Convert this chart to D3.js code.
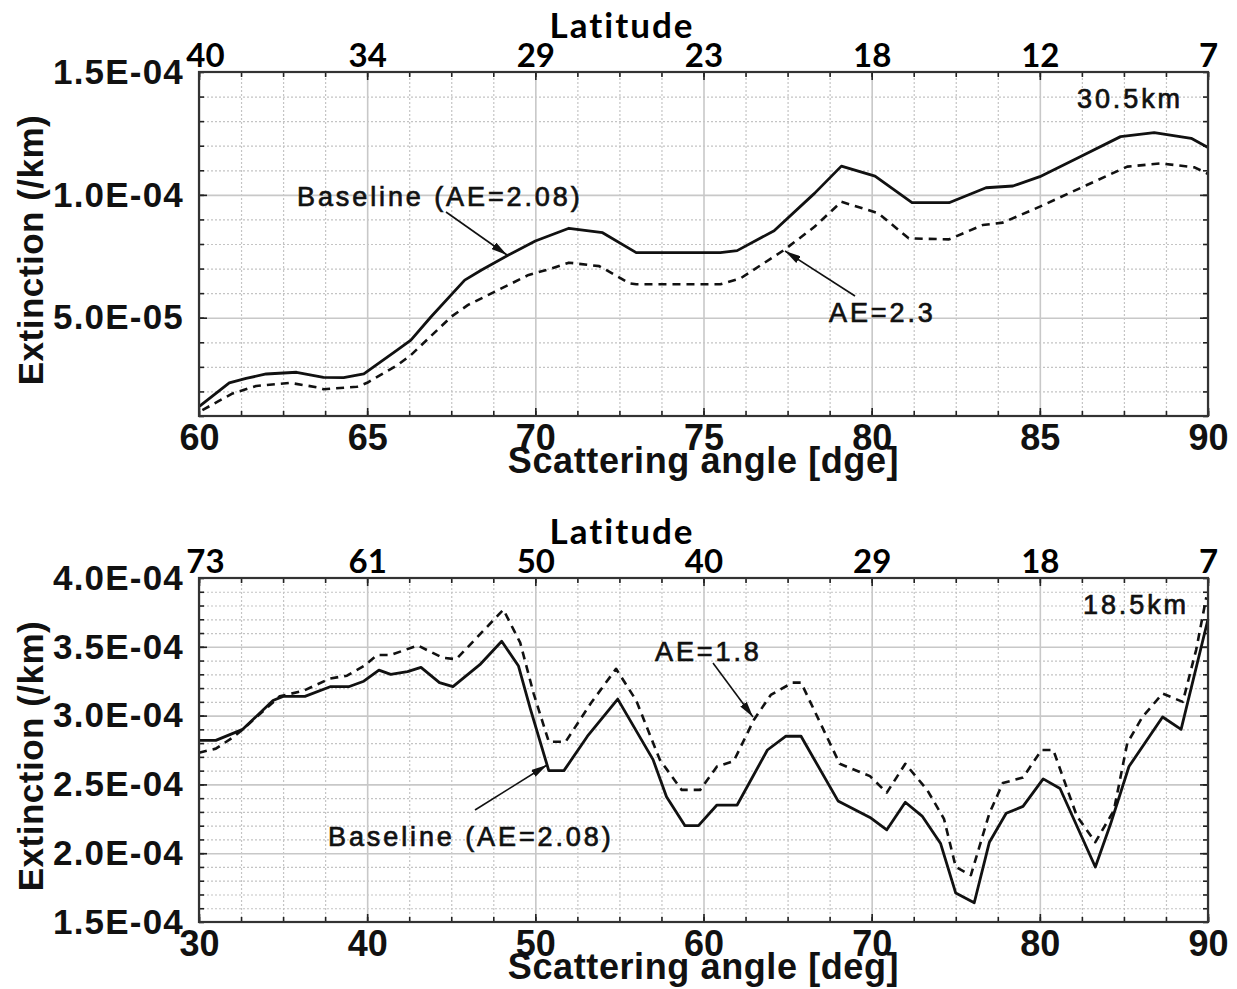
<!DOCTYPE html>
<html><head><meta charset="utf-8">
<script src="https://cdn.jsdelivr.net/npm/d3@7"></script>
<style>
body{margin:0;background:#fff;}
svg{display:block;background:#fff;}
.lbl text, text.lbl{font-family:"Liberation Sans",Arial,sans-serif;font-weight:bold;fill:#111;}
.lat text, text.lat{font-family:Lato,"Open Sans",sans-serif;font-weight:bold;fill:#000;}
text.ann{font-family:"Liberation Sans",Arial,sans-serif;fill:#111;stroke:#111;stroke-width:0.7;}
</style></head><body>
<svg id="c" width="1237" height="989"></svg>
<script>
// ---------------- DATA ----------------
// Top panel: 30.5 km
const topXTicks = [60, 65, 70, 75, 80, 85, 90];
const topLatLabels = ["40", "34", "29", "23", "18", "12", "7"];
const topYTicks = [1.5e-4, 1.0e-4, 5.0e-5];
const topYLabels = ["1.5E-04", "1.0E-04", "5.0E-05"];

const topBaseAngle = [60.0, 60.9, 61.4, 62.0, 62.9, 63.7, 64.3, 64.9, 65.9, 66.3, 66.9, 67.9, 68.4, 69.2, 70.0, 71.0, 72.0, 73.0, 75.5, 76.0, 77.1, 78.3, 79.1, 80.1, 81.2, 82.3, 83.4, 84.2, 85.0, 86.2, 87.4, 88.4, 89.5, 90.0];
const topBaseExt = [1.38e-5, 2.35e-5, 2.53e-5, 2.71e-5, 2.78e-5, 2.57e-5, 2.56e-5, 2.71e-5, 3.69e-5, 4.09e-5, 5.04e-5, 6.53e-5, 6.94e-5, 7.55e-5, 8.12e-5, 8.64e-5, 8.46e-5, 7.65e-5, 7.65e-5, 7.73e-5, 8.54e-5, 1.006e-4, 1.117e-4, 1.076e-4, 9.68e-5, 9.68e-5, 1.029e-4, 1.036e-4, 1.074e-4, 1.155e-4, 1.237e-4, 1.253e-4, 1.230e-4, 1.193e-4];

const topAE23Angle = [60.1, 61.0, 61.7, 62.7, 63.5, 63.7, 64.7, 65.0, 65.9, 66.3, 67.5, 68.0, 68.9, 69.8, 70.5, 71.0, 71.9, 72.8, 73.0, 75.5, 76.1, 77.4, 78.3, 79.1, 80.2, 81.1, 82.3, 83.3, 83.9, 85.0, 86.4, 87.6, 88.6, 89.6, 90.0];
const topAE23Ext = [1.24e-5, 1.92e-5, 2.22e-5, 2.35e-5, 2.17e-5, 2.09e-5, 2.19e-5, 2.35e-5, 3.07e-5, 3.48e-5, 5.04e-5, 5.52e-5, 6.13e-5, 6.74e-5, 7.01e-5, 7.24e-5, 7.10e-5, 6.40e-5, 6.36e-5, 6.36e-5, 6.60e-5, 7.76e-5, 8.70e-5, 9.72e-5, 9.25e-5, 8.23e-5, 8.19e-5, 8.77e-5, 8.87e-5, 9.52e-5, 1.040e-4, 1.115e-4, 1.128e-4, 1.112e-4, 1.085e-4];

// Bottom panel: 18.5 km
const botXTicks = [30, 40, 50, 60, 70, 80, 90];
const botLatLabels = ["73", "61", "50", "40", "29", "18", "7"];
const botYTicks = [4.0e-4, 3.5e-4, 3.0e-4, 2.5e-4, 2.0e-4, 1.5e-4];
const botYLabels = ["4.0E-04", "3.5E-04", "3.0E-04", "2.5E-04", "2.0E-04", "1.5E-04"];

const botBaseAngle = [30.0, 31.0, 32.6, 34.4, 35.0, 36.3, 37.8, 38.9, 39.8, 40.7, 41.4, 42.4, 43.2, 44.3, 45.1, 46.7, 48.0, 49.0, 49.7, 50.8, 51.7, 53.1, 54.9, 57.0, 57.8, 58.9, 59.7, 60.8, 62.0, 63.8, 64.9, 65.8, 68.0, 69.9, 70.9, 72.0, 73.0, 74.1, 75.0, 76.1, 77.0, 78.0, 79.0, 80.2, 81.2, 83.3, 84.2, 85.3, 87.3, 88.4, 90.0];
const botBaseExt = [2.82e-4, 2.82e-4, 2.90e-4, 3.11e-4, 3.14e-4, 3.14e-4, 3.21e-4, 3.21e-4, 3.25e-4, 3.33e-4, 3.30e-4, 3.32e-4, 3.35e-4, 3.24e-4, 3.21e-4, 3.37e-4, 3.54e-4, 3.36e-4, 3.05e-4, 2.60e-4, 2.60e-4, 2.85e-4, 3.12e-4, 2.68e-4, 2.41e-4, 2.20e-4, 2.20e-4, 2.35e-4, 2.35e-4, 2.75e-4, 2.85e-4, 2.85e-4, 2.38e-4, 2.26e-4, 2.17e-4, 2.37e-4, 2.27e-4, 2.07e-4, 1.71e-4, 1.64e-4, 2.08e-4, 2.29e-4, 2.34e-4, 2.54e-4, 2.47e-4, 1.90e-4, 2.21e-4, 2.63e-4, 2.99e-4, 2.90e-4, 3.70e-4];

const botAE18Angle = [30.0, 31.0, 32.0, 32.6, 34.8, 36.2, 37.8, 38.8, 39.8, 40.6, 41.4, 43.0, 44.5, 45.3, 46.7, 48.1, 49.1, 49.9, 50.8, 51.8, 53.3, 54.8, 56.0, 57.4, 58.7, 59.8, 60.8, 61.8, 63.0, 64.0, 65.3, 65.8, 68.1, 69.9, 70.9, 72.0, 73.3, 74.3, 75.0, 75.9, 77.0, 77.8, 79.0, 80.1, 80.8, 82.2, 83.3, 84.4, 85.2, 86.1, 87.3, 88.5, 89.3, 89.9];
const botAE18Ext = [2.73e-4, 2.76e-4, 2.84e-4, 2.90e-4, 3.14e-4, 3.18e-4, 3.27e-4, 3.29e-4, 3.36e-4, 3.44e-4, 3.44e-4, 3.51e-4, 3.42e-4, 3.41e-4, 3.59e-4, 3.77e-4, 3.53e-4, 3.16e-4, 2.81e-4, 2.81e-4, 3.09e-4, 3.34e-4, 3.11e-4, 2.68e-4, 2.46e-4, 2.46e-4, 2.63e-4, 2.67e-4, 2.97e-4, 3.15e-4, 3.24e-4, 3.24e-4, 2.65e-4, 2.56e-4, 2.44e-4, 2.65e-4, 2.46e-4, 2.25e-4, 1.90e-4, 1.84e-4, 2.29e-4, 2.51e-4, 2.55e-4, 2.75e-4, 2.75e-4, 2.27e-4, 2.08e-4, 2.31e-4, 2.80e-4, 2.99e-4, 3.16e-4, 3.10e-4, 3.48e-4, 3.86e-4];

// ---------------- DRAWING ----------------
const svg = d3.select('#c');
const defs = svg.append('defs');
defs.append('marker').attr('id', 'arr').attr('viewBox', '0 0 16 8')
  .attr('refX', 16).attr('refY', 4).attr('markerWidth', 16).attr('markerHeight', 8)
  .attr('markerUnits', 'userSpaceOnUse').attr('orient', 'auto')
  .append('path').attr('d', 'M0,0 L16,4 L0,8 Z').attr('fill', '#111');

function panel(cfg) {
  const x = d3.scaleLinear().domain(cfg.xDomain).range([cfg.x0, cfg.x1]);
  const y = d3.scaleLinear().domain(cfg.yDomain).range([cfg.y1, cfg.y0]);
  const W = cfg.x1 - cfg.x0, H = cfg.y1 - cfg.y0;
  const g = svg.append('g');
  const eps = 1e-9;
  const xMinor = d3.range(cfg.xDomain[0], cfg.xDomain[1] + eps, cfg.xMinorStep);
  const yMinor = d3.range(0, Math.round((cfg.yDomain[1] - cfg.yDomain[0]) / cfg.yMinorStep) + 1)
                   .map(i => cfg.yDomain[0] + i * cfg.yMinorStep);
  const isMajX = v => cfg.xTicks.some(t => Math.abs(t - v) < 1e-6);
  const isMajY = v => cfg.yMajor.some(t => Math.abs(t - v) < 1e-12);

  // minor grid (dotted)
  g.append('g').attr('transform', `translate(0,${cfg.y1})`)
    .call(d3.axisBottom(x).tickValues(xMinor.filter(v => !isMajX(v))).tickSize(-H).tickFormat(''))
    .call(s => s.select('.domain').remove())
    .selectAll('line').attr('stroke', '#c4c4c4').attr('stroke-width', 1.2).attr('stroke-dasharray', '2,2');
  g.append('g').attr('transform', `translate(${cfg.x0},0)`)
    .call(d3.axisLeft(y).tickValues(yMinor.filter(v => !isMajY(v))).tickSize(-W).tickFormat(''))
    .call(s => s.select('.domain').remove())
    .selectAll('line').attr('stroke', '#c4c4c4').attr('stroke-width', 1.2).attr('stroke-dasharray', '2,2');
  // major grid (solid)
  g.append('g').attr('transform', `translate(0,${cfg.y1})`)
    .call(d3.axisBottom(x).tickValues(cfg.xTicks).tickSize(-H).tickFormat(''))
    .call(s => s.select('.domain').remove())
    .selectAll('line').attr('stroke', '#c8c8c8').attr('stroke-width', 1.6);
  g.append('g').attr('transform', `translate(${cfg.x0},0)`)
    .call(d3.axisLeft(y).tickValues(cfg.yMajor).tickSize(-W).tickFormat(''))
    .call(s => s.select('.domain').remove())
    .selectAll('line').attr('stroke', '#c8c8c8').attr('stroke-width', 1.6);

  // inward tick marks on all four sides
  const tk = (axis, tr, vals, len) => {
    g.append('g').attr('transform', tr)
      .call(axis.tickValues(vals).tickSize(-len).tickFormat(''))
      .call(s => s.select('.domain').remove())
      .selectAll('line').attr('stroke', '#222').attr('stroke-width', 1.6);
  };
  tk(d3.axisBottom(x), `translate(0,${cfg.y1})`, xMinor, 5);
  tk(d3.axisBottom(x), `translate(0,${cfg.y1})`, cfg.xTicks, 8);
  tk(d3.axisTop(x), `translate(0,${cfg.y0})`, xMinor, 5);
  tk(d3.axisTop(x), `translate(0,${cfg.y0})`, cfg.xTicks, 8);
  tk(d3.axisLeft(y), `translate(${cfg.x0},0)`, yMinor, 5);
  tk(d3.axisLeft(y), `translate(${cfg.x0},0)`, cfg.yMajor, 8);
  tk(d3.axisRight(y), `translate(${cfg.x1},0)`, yMinor, 5);
  tk(d3.axisRight(y), `translate(${cfg.x1},0)`, cfg.yMajor, 8);

  // series
  const line = d3.line().x(d => x(d[0])).y(d => y(d[1]));
  g.append('path').datum(d3.zip(cfg.dashA, cfg.dashV)).attr('d', line)
    .attr('fill', 'none').attr('stroke', '#111').attr('stroke-width', 2.6)
    .attr('stroke-dasharray', '8,6').attr('stroke-linejoin', 'round');
  g.append('path').datum(d3.zip(cfg.solidA, cfg.solidV)).attr('d', line)
    .attr('fill', 'none').attr('stroke', '#111').attr('stroke-width', 2.8)
    .attr('stroke-linejoin', 'round');

  // frame
  g.append('rect').attr('x', cfg.x0).attr('y', cfg.y0).attr('width', W).attr('height', H)
    .attr('fill', 'none').attr('stroke', '#333').attr('stroke-width', 2.2);

  // bottom tick labels
  const bx = g.append('g').attr('class', 'lbl').attr('transform', `translate(0,${cfg.y1})`)
    .call(d3.axisBottom(x).tickValues(cfg.xTicks).tickSize(0).tickPadding(8).tickFormat(d3.format('d')));
  bx.select('.domain').remove();
  bx.selectAll('text').attr('font-size', 36).attr('fill', '#111');
  // top latitude labels
  const tx = g.append('g').attr('class', 'lat').attr('transform', `translate(0,${cfg.y0})`)
    .call(d3.axisTop(x).tickValues(cfg.xTicks).tickSize(0).tickPadding(5).tickFormat((d, i) => cfg.latLabels[i]));
  tx.select('.domain').remove();
  tx.selectAll('text').attr('font-size', 33).attr('fill', '#000')
    .attr('dx', (d, i) => i === 0 ? 6 : 0);
  // left y labels
  const ly = g.append('g').attr('class', 'lbl').attr('transform', `translate(${cfg.x0},0)`)
    .call(d3.axisLeft(y).tickValues(cfg.yTicks).tickSize(0).tickPadding(15).tickFormat((d, i) => cfg.yLabels[i]));
  ly.select('.domain').remove();
  ly.selectAll('text').attr('font-size', 35).attr('fill', '#111').attr('letter-spacing', 1.2);

  // titles
  const cx = (cfg.x0 + cfg.x1) / 2;
  g.append('text').attr('class', 'lbl').attr('x', cx).attr('y', cfg.y1 + 57)
    .attr('text-anchor', 'middle').attr('font-size', 36).attr('letter-spacing', 0.6).text(cfg.xTitle);
  g.append('text').attr('class', 'lat').attr('x', 622).attr('y', cfg.y0 - 34)
    .attr('text-anchor', 'middle').attr('font-size', 35).attr('letter-spacing', 2).text('Latitude');
  g.append('text').attr('class', 'lbl')
    .attr('transform', `translate(30,${(cfg.y0 + cfg.y1) / 2 + 6}) rotate(-90)`)
    .attr('text-anchor', 'middle').attr('dominant-baseline', 'central')
    .attr('font-size', 35).attr('letter-spacing', 0.5).text('Extinction (/km)');

  // annotations
  cfg.notes.forEach(n => {
    g.append('text').attr('class', 'ann').attr('x', n.x).attr('y', n.y)
      .attr('font-size', 27).attr('letter-spacing', 2.9).text(n.t);
  });
  cfg.arrows.forEach(a => {
    g.append('line').attr('x1', a[0]).attr('y1', a[1]).attr('x2', a[2]).attr('y2', a[3])
      .attr('stroke', '#111').attr('stroke-width', 1.6).attr('marker-end', 'url(#arr)');
  });
}

panel({
  x0: 199, x1: 1208, y0: 72, y1: 416,
  xDomain: [60, 90], yDomain: [1.0e-5, 1.5e-4],
  xMinorStep: 1.25, yMinorStep: 1e-5,
  xTicks: topXTicks, latLabels: topLatLabels,
  yMajor: [1.0e-4, 5.0e-5],
  yTicks: topYTicks, yLabels: topYLabels,
  solidA: topBaseAngle, solidV: topBaseExt,
  dashA: topAE23Angle, dashV: topAE23Ext,
  xTitle: 'Scattering angle [dge]',
  notes: [
    {t: 'Baseline (AE=2.08)', x: 297, y: 206},
    {t: 'AE=2.3', x: 829, y: 322},
    {t: '30.5km', x: 1077, y: 108}
  ],
  arrows: [[446, 212, 507, 255], [855, 296, 785, 251]]
});

panel({
  x0: 199, x1: 1208, y0: 578, y1: 922,
  xDomain: [30, 90], yDomain: [1.5e-4, 4.0e-4],
  xMinorStep: 2.5, yMinorStep: 1e-5,
  xTicks: botXTicks, latLabels: botLatLabels,
  yMajor: [3.5e-4, 3.0e-4, 2.5e-4, 2.0e-4],
  yTicks: botYTicks, yLabels: botYLabels,
  solidA: botBaseAngle, solidV: botBaseExt,
  dashA: botAE18Angle, dashV: botAE18Ext,
  xTitle: 'Scattering angle [deg]',
  notes: [
    {t: 'AE=1.8', x: 655, y: 661},
    {t: 'Baseline (AE=2.08)', x: 328, y: 846},
    {t: '18.5km', x: 1083, y: 614}
  ],
  arrows: [[713, 663, 753, 717], [475, 810, 547, 765]]
});
</script>
</body></html>
